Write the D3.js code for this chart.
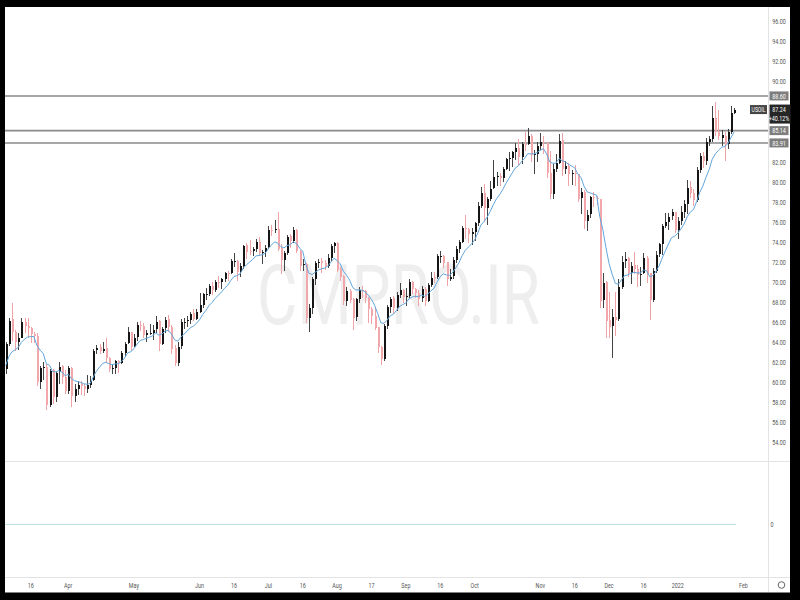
<!DOCTYPE html>
<html><head><meta charset="utf-8">
<script src="https://cdn.jsdelivr.net/npm/d3@7"></script>
<style>html,body{margin:0;padding:0;background:#000;}svg{display:block}</style>
</head><body><svg id="c" width="800" height="600"></svg>
<script>
// ---------- DATA ----------
const symbol = "USOIL";
const firstDay = "2021-03-04";
const lastSlot = "2022-02-01";
const closedDays = ["2021-04-02", "2021-12-24"];

const opens = [
 /*Mar*/ 61.3,63.8,66.3,65.0,64.0,64.4,66.0,65.6,65.4,64.8,64.6,60.0,61.4,61.5,57.8,61.2,58.6,61.0,61.6,60.5,
 /*Apr*/ 59.2,61.4,58.7,59.3,59.8,59.6,59.3,59.7,60.2,63.2,63.5,63.1,63.4,62.4,61.4,61.4,62.1,61.9,62.9,63.9,65.0,
 /*May*/ 63.6,64.5,65.7,65.6,64.7,64.9,64.9,65.3,66.1,63.8,65.4,66.3,65.5,63.4,61.9,63.6,66.0,66.1,66.2,66.9,66.3,
 /*Jun*/ 67.0,67.7,68.8,68.8,69.6,69.2,70.0,70.0,70.3,70.9,70.9,72.1,72.1,71.0,71.6,73.7,73.1,73.1,73.3,74.0,72.9,73.0,
 /*Jul*/ 73.5,75.2,75.2,75.3,73.4,72.2,72.9,74.6,74.1,75.2,73.1,71.7,71.8,66.4,67.4,70.3,71.9,72.1,71.9,71.6,72.4,73.6,
 /*Aug*/ 73.9,71.3,70.6,68.1,69.1,68.3,66.5,68.3,69.2,69.1,68.4,67.3,66.6,65.5,63.5,62.3,65.6,67.5,68.4,67.4,68.7,69.2,
 /*Sep*/ 68.5,68.6,70.0,69.3,68.9,68.4,69.3,68.1,69.7,70.5,70.5,72.6,72.6,72.0,70.3,70.6,72.2,73.3,74.0,75.4,75.3,74.8,
 /*Oct*/ 75.0,75.9,77.6,78.9,77.4,78.3,79.4,80.5,80.6,80.4,81.3,82.3,82.4,83.0,83.4,82.5,83.8,83.8,84.6,82.7,82.8,
 /*Nov*/ 83.6,84.0,83.9,80.9,78.8,81.3,81.9,84.2,81.3,81.6,80.8,80.9,80.8,78.4,79.0,76.1,76.8,78.5,78.4,78.3,68.2,70.0,
 /*Dec*/ 66.2,65.6,66.5,66.3,69.5,72.1,72.4,70.9,71.7,71.3,70.7,70.9,72.4,70.9,68.2,71.1,72.8,73.8,75.6,76.0,76.6,77.0,
 /*Jan*/ 75.2,76.1,77.0,77.8,79.5,78.9,78.2,81.2,82.6,82.1,84.0,84.3,86.4,85.0,84.4,84.6,83.8,85.0,86.9
];
const highs = [
 /*Mar*/ 64.0,66.4,67.98,65.2,64.9,66.4,66.4,66.4,65.5,65.0,64.9,61.6,62.0,61.8,61.3,61.3,61.1,62.0,61.7,61.2,
 /*Apr*/ 61.6,61.5,59.8,60.1,60.1,59.8,60.7,60.6,63.3,63.7,63.8,64.0,64.4,62.5,61.8,62.2,62.2,63.1,64.0,65.5,65.0,
 /*May*/ 64.8,66.0,66.1,65.9,65.2,65.8,65.7,66.6,66.2,65.5,66.5,66.7,65.7,63.7,64.0,66.3,66.4,66.6,67.0,67.3,67.3,
 /*Jun*/ 68.9,68.9,69.4,69.8,70.0,70.2,70.6,70.4,71.0,71.1,72.3,72.9,72.2,71.9,73.7,73.9,74.2,73.5,74.3,74.5,73.2,73.7,
 /*Jul*/ 75.6,75.7,76.2,76.98,73.8,73.1,74.7,74.8,75.5,75.3,73.2,72.3,71.9,67.8,70.5,72.1,72.3,72.4,72.2,72.8,73.8,74.0,
 /*Aug*/ 74.0,71.5,70.7,69.5,69.3,68.4,68.4,69.5,69.6,69.2,68.5,67.5,67.5,65.5,63.6,65.8,67.7,68.5,68.6,69.0,69.9,69.3,
 /*Sep*/ 69.4,70.3,70.1,69.4,69.2,69.6,69.5,69.9,71.0,71.0,72.8,73.1,72.7,72.0,71.3,72.5,73.6,74.2,75.6,76.7,75.4,75.4,
 /*Oct*/ 76.0,78.0,79.5,79.8,78.5,80.1,82.2,81.0,80.9,81.5,82.4,83.0,83.1,83.9,84.3,84.0,85.0,85.4,84.8,83.2,84.0,
 /*Nov*/ 84.9,84.6,84.0,83.1,81.8,82.8,84.8,84.9,82.1,81.9,81.2,81.7,80.8,79.4,79.2,77.2,78.6,79.0,78.6,78.3,70.9,70.1,
 /*Dec*/ 69.0,67.3,69.0,70.3,72.6,73.0,72.5,72.0,73.0,71.7,71.5,72.9,72.6,70.9,71.4,73.1,73.9,75.8,76.9,76.9,77.3,77.0,
 /*Jan*/ 76.5,77.6,78.2,80.2,80.1,79.3,81.5,82.9,83.0,84.4,84.6,87.6,88.0,87.2,85.2,85.0,85.3,87.6,87.4
];
const lows = [
 /*Mar*/ 60.8,63.6,64.1,63.1,63.2,64.4,64.9,64.4,63.9,63.9,59.6,59.3,60.2,57.3,57.6,57.9,58.1,59.8,59.8,58.9,
 /*Apr*/ 58.9,57.6,58.1,58.8,58.8,58.7,59.0,59.4,60.1,62.8,62.8,62.9,61.9,61.0,60.8,60.8,60.9,61.8,62.6,63.8,63.1,
 /*May*/ 63.5,64.1,65.1,64.4,64.0,64.7,64.2,64.9,63.1,63.7,64.9,65.0,62.8,61.6,61.6,63.3,65.3,65.5,65.8,66.1,66.2,
 /*Jun*/ 66.9,67.4,68.2,68.6,68.7,69.0,69.4,69.3,70.0,70.1,70.8,71.5,70.1,70.5,71.3,72.3,72.7,72.6,73.0,72.6,71.8,72.5,
 /*Jul*/ 73.3,74.6,74.9,73.1,70.8,71.1,72.7,73.4,73.9,72.9,71.1,71.1,65.9,65.0,66.8,69.7,71.4,70.9,71.2,71.4,72.1,72.9,
 /*Aug*/ 71.0,70.1,67.7,67.6,67.9,65.2,66.1,67.9,68.4,67.9,65.9,65.8,65.2,62.9,61.7,62.1,65.3,66.9,66.8,67.1,68.4,67.9,
 /*Sep*/ 67.6,68.3,68.8,68.4,67.6,68.0,67.6,68.0,69.5,69.9,70.3,71.9,71.4,69.6,70.1,70.3,71.9,72.9,73.9,74.3,73.9,73.7,
 /*Oct*/ 74.1,75.6,77.4,76.0,75.7,78.1,79.3,79.6,79.6,80.0,81.2,81.1,81.5,82.2,81.6,81.8,83.1,83.7,82.0,80.8,82.0,
 /*Nov*/ 83.2,82.8,80.4,78.3,78.3,81.0,81.8,80.6,80.8,79.6,79.7,79.6,78.0,76.8,75.3,75.1,76.4,77.5,77.7,67.4,67.4,64.4,
 /*Dec*/ 64.4,62.4,64.6,66.1,69.3,71.4,70.5,69.8,70.8,69.5,69.6,70.8,69.9,66.2,68.0,70.9,72.5,72.7,75.4,75.2,76.2,74.9,
 /*Jan*/ 74.3,75.7,76.4,76.8,78.4,77.6,78.0,80.9,81.4,81.7,83.6,84.0,84.6,84.2,83.6,82.1,83.3,84.8,86.8
];
const closes = [
 /*Mar*/ 63.83,66.09,65.05,64.01,64.44,66.02,65.61,65.39,64.80,64.60,60.00,61.42,61.55,57.76,61.18,58.56,60.97,61.56,60.55,59.16,
 /*Apr*/ 61.45,58.65,59.33,59.77,59.60,59.32,59.70,60.18,63.15,63.46,63.13,63.38,62.44,61.35,61.43,62.14,61.91,62.94,63.86,65.01,63.58,
 /*May*/ 64.49,65.69,65.63,64.71,64.90,64.92,65.28,66.08,63.82,65.37,66.27,65.49,63.36,61.94,63.58,66.05,66.07,66.21,66.85,66.32,67.00,
 /*Jun*/ 67.72,68.83,68.81,69.62,69.23,70.05,69.96,70.29,70.91,70.88,72.12,72.15,71.04,71.64,73.66,73.06,73.08,73.30,74.05,72.91,72.98,73.47,
 /*Jul*/ 75.23,75.16,75.30,73.37,72.20,72.94,74.56,74.10,75.25,73.13,71.65,71.81,66.42,67.42,70.30,71.91,72.07,71.91,71.65,72.39,73.62,73.95,
 /*Aug*/ 71.26,70.56,68.15,69.09,68.28,66.48,68.29,69.25,69.09,68.44,67.29,66.59,65.46,63.50,62.32,65.64,67.54,68.36,67.42,68.74,69.21,68.50,
 /*Sep*/ 68.59,69.99,69.29,68.90,68.35,69.30,68.14,69.72,70.45,70.46,72.61,72.61,71.97,70.29,70.56,72.23,73.30,73.98,75.45,75.29,74.83,75.03,
 /*Oct*/ 75.88,77.62,78.93,77.43,78.30,79.35,80.52,80.64,80.44,81.31,82.28,82.44,83.00,83.42,82.50,83.76,83.76,84.65,82.66,82.81,83.57,
 /*Nov*/ 84.05,83.91,80.86,78.81,81.27,81.93,84.15,81.34,81.59,80.79,80.88,80.76,78.36,79.01,76.10,76.75,78.50,78.39,78.30,68.15,69.95,66.18,
 /*Dec*/ 65.57,66.50,66.26,69.49,72.05,72.36,70.94,71.67,71.29,70.73,70.87,72.38,70.86,68.23,71.12,72.76,73.79,75.57,75.98,76.56,76.99,75.21,
 /*Jan*/ 76.08,76.99,77.85,79.46,78.90,78.23,81.22,82.64,82.12,84.00,84.30,86.40,85.00,84.60,84.70,83.80,85.00,86.90,87.24
];

const priceTicks = [96,94,92,90,88,86,84,82,80,78,76,74,72,70,68,66,64,62,60,58,56,54];
const timeTickDates  = ["2021-03-16","2021-04-01","2021-05-03","2021-06-01","2021-06-16","2021-07-01","2021-07-16","2021-08-02","2021-08-17","2021-09-01","2021-09-16","2021-10-01","2021-11-01","2021-11-16","2021-12-01","2021-12-16","2022-01-03","2022-02-01"];
const timeTickLabels = ["16","Apr","May","Jun","16","Jul","16","Aug","17","Sep","16","Oct","Nov","16","Dec","16","2022","Feb"];
const levelLines = [88.60, 85.14, 83.91];
const lastPrice = 87.24;
const changeText = "+40.12%";
const maPeriod = 9;
const maStart = 61.7;   // MA level at the first visible bar
const watermark = "CMPRO.IR";

// ---------- LAYOUT ----------
const W = 800, H = 600;
const pane = {x0: 5, x1: 768, y0: 7, y1: 461};
const svg = d3.select("#c");

// trading-day slots
const days = [];
{
  let d = new Date(firstDay + "T00:00:00Z");
  const end = new Date(lastSlot + "T00:00:00Z");
  while (d <= end) {
    const wd = d.getUTCDay(), s = d.toISOString().slice(0,10);
    if (wd !== 0 && wd !== 6 && !closedDays.includes(s)) days.push(s);
    d.setUTCDate(d.getUTCDate() + 1);
  }
}
const n = closes.length;
const step = 3.126;
const x = d3.scaleLinear().domain([0, days.length - 1]).range([5.75, 5.75 + (days.length - 1) * step]);
const y = d3.scaleLinear().domain([54, 96]).range([442.6, 21.8]);

// frame
svg.append("rect").attr("width", W).attr("height", H).attr("fill", "#000");
svg.append("rect").attr("x", 5).attr("y", 7).attr("width", 785).attr("height", 585.5).attr("fill", "#fff");

const defs = svg.append("defs");
defs.append("clipPath").attr("id", "pclip").append("rect")
  .attr("x", pane.x0).attr("y", pane.y0).attr("width", pane.x1 - pane.x0).attr("height", pane.y1 - pane.y0);

// helper for condensed text
function ctext(g, tx, ty, str, size, fill, anchor, sx) {
  return g.append("text")
    .attr("transform", `translate(${tx},${ty}) scale(${sx || 0.72},1)`)
    .attr("text-anchor", anchor || "middle")
    .attr("font-family", "Roboto, 'Liberation Sans', sans-serif")
    .attr("font-size", size).attr("fill", fill).text(str);
}

// watermark
svg.append("text").attr("x", 257).attr("y", 324)
  .attr("font-family", "Roboto, 'Liberation Sans', sans-serif").attr("font-size", 84)
  .attr("textLength", 283).attr("lengthAdjust", "spacingAndGlyphs")
  .attr("fill", "#eeeeee").text(watermark);

// separators
const sep = svg.append("g").attr("stroke", "#e3e3e3").attr("stroke-width", 1);
sep.append("line").attr("x1", 5).attr("x2", 790).attr("y1", 461.5).attr("y2", 461.5);
sep.append("line").attr("x1", 5).attr("x2", 790).attr("y1", 577.5).attr("y2", 577.5);
sep.append("line").attr("x1", 768.5).attr("x2", 768.5).attr("y1", 7).attr("y2", 592);

// plot group
const plot = svg.append("g").attr("clip-path", "url(#pclip)");

// level lines
plot.selectAll("line.lvl").data(levelLines).join("line").attr("class", "lvl")
  .attr("x1", pane.x0).attr("x2", pane.x1)
  .attr("y1", d => y(d)).attr("y2", d => y(d))
  .attr("stroke", "#8a8a8a").attr("stroke-width", 1.6);

// candles
const bars = d3.range(n).map(i => ({i, o: opens[i], h: highs[i], l: lows[i], c: closes[i]}));
const upCol = "#151515", dnCol = "#f2a7aa";
const cg = plot.append("g").attr("shape-rendering", "crispEdges");
cg.selectAll("rect.wick").data(bars).join("rect").attr("class", "wick")
  .attr("x", d => Math.round(x(d.i)))
  .attr("width", 1)
  .attr("y", d => y(d.h)).attr("height", d => Math.max(1, y(d.l) - y(d.h)))
  .attr("fill", d => d.c >= d.o ? "#444" : "#f0a3a6");
cg.selectAll("rect.body").data(bars).join("rect").attr("class", "body")
  .attr("x", d => Math.round(x(d.i)) - 0.5)
  .attr("width", 2)
  .attr("y", d => y(Math.max(d.o, d.c)))
  .attr("height", d => Math.max(1, Math.abs(y(d.o) - y(d.c))))
  .attr("fill", d => d.c >= d.o ? upCol : dnCol);

// moving average (EMA) of closes
const alpha = 2 / (maPeriod + 1);
const ma = [];
closes.forEach((c, i) => ma.push(i === 0 ? maStart : ma[i-1] + alpha * (c - ma[i-1])));
plot.append("path").datum(ma)
  .attr("d", d3.line().x((d, i) => x(i)).y(d => y(d)))
  .attr("fill", "none").attr("stroke", "#62a6dc").attr("stroke-width", 1);

// price axis labels (labels hidden under tags are skipped)
const ax = svg.append("g");
const tagSpans = levelLines.map(v => [y(v) - 5, y(v) + 5]).concat([[y(lastPrice) - 6, y(lastPrice) + 15]]);
priceTicks.forEach(v => {
  const ty = y(v);
  const hidden = tagSpans.some(([a, b]) => ty + 3 > a && ty - 3 < b);
  if (!hidden) ctext(ax, 779, ty + 2.5, v.toFixed(2), 7.5, "#555");
});

// level tags
levelLines.forEach(v => {
  ax.append("rect").attr("x", 769.5).attr("y", y(v) - 4.5).attr("width", 19).attr("height", 9).attr("fill", "#7e7e7e");
  ctext(ax, 779, y(v) + 2.6, v.toFixed(2), 7.5, "#fff");
});
// last price tag
ax.append("rect").attr("x", 769.5).attr("y", y(lastPrice) - 5).attr("width", 21).attr("height", 19).attr("fill", "#262626");
ctext(ax, 779, y(lastPrice) + 2.6, lastPrice.toFixed(2), 7.5, "#fff");
ctext(ax, 779, y(lastPrice) + 11.5, changeText, 7.5, "#fff");
ax.append("rect").attr("x", 750).attr("y", y(lastPrice) - 4.5).attr("width", 17).attr("height", 9).attr("fill", "#454545");
ctext(ax, 758.5, y(lastPrice) + 2.4, symbol, 7, "#fff");

// lower pane
svg.append("line").attr("x1", 5).attr("x2", x(days.indexOf("2022-01-27")) + 2).attr("y1", 524.5).attr("y2", 524.5)
  .attr("stroke", "#bfe0e3").attr("stroke-width", 1);
ctext(svg, 772, 527, "0", 7.5, "#555");

// time axis
const tg = svg.append("g");
timeTickDates.forEach((d, k) => {
  const i = days.indexOf(d);
  if (i >= 0) ctext(tg, x(i), 588, timeTickLabels[k], 7.5, "#555");
});
// settings icon
svg.append("circle").attr("cx", 781.5).attr("cy", 585).attr("r", 3.3).attr("fill", "none").attr("stroke", "#666").attr("stroke-width", 1);
</script>
</body></html>
